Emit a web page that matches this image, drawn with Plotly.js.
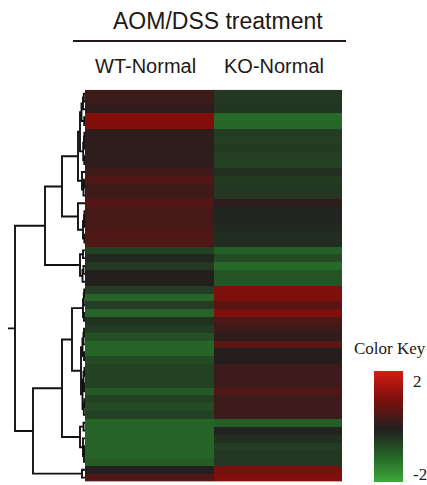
<!DOCTYPE html>
<html>
<head>
<meta charset="utf-8">
<script src="https://cdn.plot.ly/plotly-3.0.1.min.js"></script>
<style>
html,body{margin:0;padding:0;background:#fff;}
#chart{width:427px;height:485px;}
</style>
</head>
<body>
<div id="chart"></div>
<script>
// ---------- data ----------
const columnLabels = ["WT-Normal", "KO-Normal"];
const chartTitle = "AOM/DSS treatment";
const rowIndex = Array.from({length: 50}, (_, i) => i);
const wtNormal = [
  0.37, 0.34, 0.21, 1.33, 1.30, 0.19, 0.18, 0.16, 0.16, 0.16,
  0.40, 0.64, 0.40, 0.40, 0.71, 0.51, 0.48, 0.51, 0.64, 0.62,
  -0.55, -0.14, -0.39, 0.03, 0.03, -0.47, -1.11, -0.47, -1.11, -0.31,
  -0.47, -0.79, -1.11, -1.11, -0.71, -0.55, -0.55, -0.55, -0.95, -0.55,
  -0.71, -0.55, -1.11, -1.11, -1.11, -1.11, -1.11, -0.98, 0.04, 0.64
];
const koNormal = [
  -0.39, -0.39, -0.34, -1.19, -1.16, -0.47, -0.50, -0.43, -0.50, -0.55,
  -0.27, -0.43, -0.39, -0.39, 0.16, -0.11, -0.11, -0.14, -0.23, -0.23,
  -1.03, -0.71, -1.19, -0.87, -0.87, 1.26, 1.30, 0.78, 1.30, 0.57,
  0.37, 0.16, 0.81, 0.04, 0.04, 0.37, 0.37, 0.37, 0.64, 0.37,
  0.37, 0.37, -1.03, -0.08, -0.27, -0.47, -0.39, -0.39, 1.19, 1.33
];
// row dendrogram linkage (leaves 0..49, merge i creates node 50+i)
const mergeLeft   = [0, 50, 3, 51, 5, 54, 8, 55, 53, 11, 59, 10, 58, 15, 63, 18, 64, 14, 62, 20, 22, 70, 69, 68,
                     25, 74, 28, 75, 30, 78, 33, 79, 35, 37, 82, 39, 85, 84, 81, 77, 42, 45, 91, 44, 90, 89, 48, 95, 73];
const mergeRight  = [1, 2, 4, 52, 6, 7, 9, 56, 57, 12, 13, 60, 61, 16, 17, 19, 65, 66, 67, 21, 23, 24, 71, 72,
                     26, 27, 29, 76, 31, 32, 34, 80, 36, 38, 83, 40, 41, 86, 87, 88, 43, 46, 47, 92, 93, 94, 49, 96, 97];
const mergeHeight = [0.12, 0.2, 0.08, 0.35, 0.06, 0.1, 0.07, 0.18, 0.5, 0.1, 0.15, 0.3, 0.7, 0.05, 0.09, 0.06, 0.2, 0.7, 2.3,
                     0.2, 0.15, 0.25, 0.5, 4.0, 0.08, 0.12, 0.1, 0.2, 0.1, 0.15, 0.1, 0.25, 0.05, 0.1, 0.15, 0.07, 0.12,
                     0.25, 0.4, 1.3, 0.15, 0.06, 0.1, 0.2, 0.5, 2.3, 0.3, 5.2, 7.0];
// colour key
const keyValues = [-2.2, -1.19, 0, 1.33, 2.45];
const keyColors = ["rgb(62,168,60)", "rgb(38,105,40)", "rgb(33,31,31)", "rgb(130,15,12)", "rgb(212,30,20)"];
const keyTicks = [-2, 2];
const keyTickText = ["-2", "2"];

// ---------- build ----------
const zMin = keyValues[0], zMax = keyValues[keyValues.length - 1];
const colorscale = keyValues.map((v, i) => [(v - zMin) / (zMax - zMin), keyColors[i]]);
const z = rowIndex.map(i => [wtNormal[i], koNormal[i]]);

const nLeaves = rowIndex.length;
const nodeY = rowIndex.slice();
const nodeH = rowIndex.map(() => 0);
const dx = [], dy = [];
mergeLeft.forEach((l, i) => {
  const r = mergeRight[i], h = mergeHeight[i];
  const yl = nodeY[l], yr = nodeY[r];
  dx.push(nodeH[l], h, h, nodeH[r], null);
  dy.push(yl, yl, yr, yr, null);
  nodeY.push((yl + yr) / 2);
  nodeH.push(h);
});
const rootY = nodeY[nodeY.length - 1], rootH = nodeH[nodeH.length - 1];
dx.push(rootH, rootH * 1.1, null);
dy.push(rootY, rootY, null);

const W = 427, H = 485;
const hmLeft = 85, hmRight = 342, hmTop = 89.7, hmBottom = 481.5;
const ink = "#231815";
const serif = "Liberation Serif, Times New Roman, serif";
const sans = "Liberation Sans, Arial, sans-serif";

// colour key geometry (pixels)
const keyLeft = 374, keyThick = 29, keyBottom = 481.7, keyLen = 110.7, keyFont = 17;
const keyLabelAnns = keyTicks.map((v, i) => {
  const fromBottom = (H - keyBottom) + (v - zMin) / (zMax - zMin) * keyLen;
  const half = keyFont * 0.62;
  const clamp = fromBottom < half;
  return {
    text: keyTickText[i], xref: "paper", yref: "paper",
    x: (keyLeft + keyThick + 9) / W, xanchor: "left",
    y: clamp ? 0 : fromBottom / H, yanchor: clamp ? "bottom" : "middle",
    showarrow: false, borderpad: 0,
    font: {family: serif, size: keyFont, color: ink}
  };
});

const traces = [
  {
    type: "heatmap",
    z: z,
    x: [0, 1],
    y: rowIndex,
    xaxis: "x", yaxis: "y",
    zmin: zMin, zmax: zMax,
    colorscale: colorscale,
    zsmooth: false,
    hoverinfo: "skip",
    colorbar: {
      x: keyLeft / W, xanchor: "left", xpad: 0,
      y: (H - keyBottom) / H, yanchor: "bottom", ypad: 0,
      len: keyLen, lenmode: "pixels",
      thickness: keyThick, thicknessmode: "pixels",
      outlinewidth: 0,
      showticklabels: false, ticks: ""
    }
  },
  {
    type: "scatter", mode: "lines",
    x: dx, y: dy,
    xaxis: "x2", yaxis: "y",
    line: {color: "#111", width: 1.9},
    hoverinfo: "skip", connectgaps: false
  }
];

const layout = {
  width: W, height: H,
  margin: {l: 0, r: 0, t: 0, b: 0},
  paper_bgcolor: "#fff", plot_bgcolor: "#fff",
  showlegend: false,
  xaxis: {domain: [hmLeft / W, hmRight / W], range: [-0.5, 1.5], visible: false, fixedrange: true},
  yaxis: {domain: [(H - hmBottom) / H, (H - hmTop) / H], range: [nLeaves - 0.5, -0.5], visible: false},
  xaxis2: {domain: [0, hmLeft / W], range: [8.5, 0], visible: false, anchor: "y"},
  annotations: [
    {text: chartTitle, xref: "paper", yref: "paper", x: 217.5 / W, y: 1 - 21 / H,
     xanchor: "center", yanchor: "middle", showarrow: false,
     font: {family: sans, size: 23, color: ink}},
    ...columnLabels.map((t, i) => ({
      text: t, xref: "x", yref: "paper", x: i, y: 1 - 66 / H, xshift: -4,
      xanchor: "center", yanchor: "middle", showarrow: false,
      font: {family: sans, size: 20, color: ink}
    })),
    {text: "Color Key", xref: "paper", yref: "paper", x: 389.5 / W, y: 1 - 348 / H,
     xanchor: "center", yanchor: "middle", showarrow: false,
     font: {family: serif, size: 17, color: ink}},
    ...keyLabelAnns
  ],
  shapes: [
    {type: "line", xref: "paper", yref: "paper", x0: 73 / W, x1: 346 / W, y0: 1 - 41 / H, y1: 1 - 41 / H,
     line: {color: ink, width: 2}}
  ]
};

Plotly.newPlot("chart", traces, layout, {staticPlot: true, displayModeBar: false});
</script>
</body>
</html>
